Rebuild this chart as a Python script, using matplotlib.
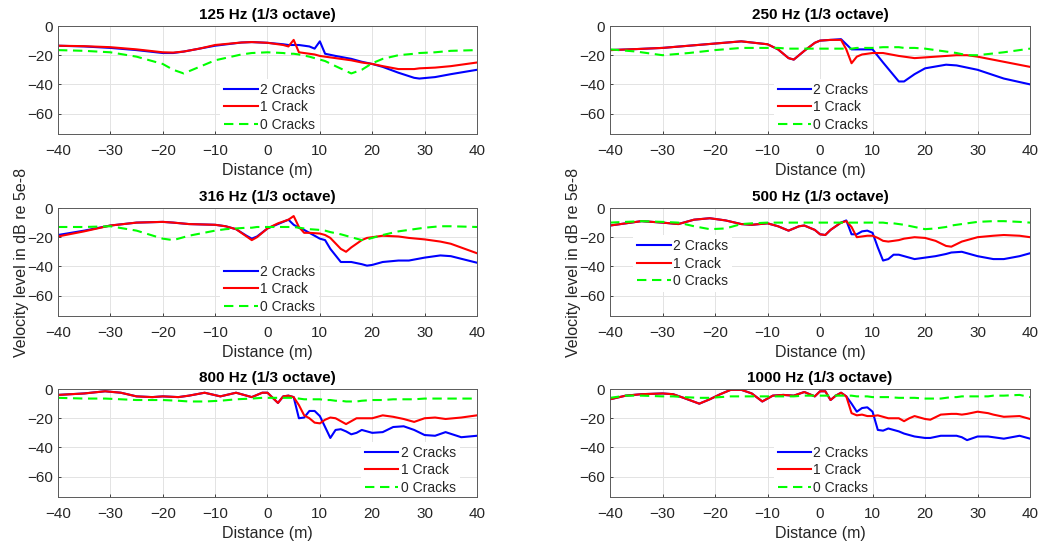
import matplotlib
matplotlib.use('Agg')
import matplotlib.pyplot as plt

plt.rcParams['font.family'] = ['Liberation Sans', 'DejaVu Sans']

labels = ['2 Cracks', '1 Crack', '0 Cracks']

# 125 Hz
x_125 = [-40, -35, -30, -25, -20, -18, -16, -13, -10, -5, -3, 0, 3, 4, 5, 6, 8, 9, 10, 11,
         13, 16, 18, 20, 22, 25, 28, 29, 32, 35, 40]
c2_125 = [-13.5, -14, -15, -16.5, -18.5, -18.5, -17.5, -15.5, -13.5, -11.3, -11, -11.5, -12.5, -13, -13, -13,
          -14, -15.5, -10.5, -19, -20.5, -22.5, -24.5, -26, -28, -32, -35.5, -36, -35, -33, -30]
c1_125 = [-13.5, -13.8, -14.5, -16, -18, -18.2, -17.5, -15.5, -13, -11.3, -11, -11.5, -13, -14, -9.5, -18,
          -19, -19.5, -20.5, -21, -22, -23.5, -25, -26, -27.5, -29.5, -29.5, -29, -28.5, -27.5, -25]
c0_125 = [-16.5, -17, -18, -21, -26, -30, -32.5, -28, -23.5, -19.5, -18.5, -18, -18.5, -19, -19, -19.5,
          -21, -22, -23, -24, -27.5, -32.5, -30, -25.5, -22.5, -20, -19, -18.5, -18, -17, -16.5]

# 250 Hz
x_250 = [-40, -35, -30, -25, -20, -15, -10, -8, -6, -5, -3, -1, 0, 2, 4, 5, 6, 7, 8, 10,
         12, 15, 16, 18, 20, 24, 26, 28, 30, 35, 40]
c2_250 = [-16.5, -15.8, -15, -13.5, -12, -10.5, -12.5, -16, -22, -23, -17, -11.5, -10, -9.5, -9, -12.5,
          -16, -16, -16, -16, -25, -38, -38, -33, -29, -26.5, -27, -28.5, -30, -36, -40]
c1_250 = [-16.5, -15.8, -15, -13.5, -12, -10.5, -12.5, -16, -22, -23, -17, -11.5, -10, -9.5, -9.5, -16,
          -25.5, -21, -19.5, -18.5, -18.5, -20.5, -21, -22, -21.5, -20.5, -20, -20, -21, -24.5, -28]
c0_250 = [-16, -17.5, -20, -18.5, -16.5, -15, -15, -15, -15.5, -15.5, -15.5, -15.5, -15.5, -15.5, -15.5,
          -15.5, -15.5, -15, -15, -15, -14.5, -14.5, -15, -15, -15.5, -17.5, -18.5, -20, -20, -18, -15.5]

# 316 Hz
x_316 = [-40, -35, -30, -25, -20, -18, -15, -10, -8, -6, -4, -3, -2, 0, 2, 4, 5, 6, 7, 8,
         10, 11, 12, 14, 15, 16, 18, 19, 20, 22, 25, 27, 30, 33, 35, 40]
c2_316 = [-18.5, -15.5, -12, -10, -9.5, -10, -11, -11.5, -12.5, -14.5, -19, -21, -19.5, -14, -11, -8,
          -11.5, -13.5, -15, -17, -21, -22, -28, -37, -37, -37, -38.5, -39.5, -39, -37, -36, -36, -34,
          -32.5, -33, -37.5]
c1_316 = [-19.5, -16, -12, -10, -9.5, -10, -11, -11.5, -12.5, -14.5, -19.5, -22, -20, -14, -10.5, -8,
          -5.5, -13, -17, -17, -17.5, -18.5, -20.5, -28, -30, -27, -22, -20.5, -20, -19, -19.5, -20.5,
          -21.5, -23, -24.5, -31]
c0_316 = [-13, -13, -12.5, -15.5, -21, -22, -19, -15.5, -14.5, -14, -13.5, -13.5, -13, -13, -13, -13,
          -13, -13.5, -14, -14.5, -15, -15.5, -16.5, -18, -19, -20, -22, -21.5, -20.5, -18.5, -16, -15,
          -13.5, -12.5, -12.5, -13]

# 500 Hz
x_500 = [-40, -37, -34, -30, -27, -24, -21, -18, -15, -13, -10, -8, -6, -4, -3, -1, 0, 1, 2, 4,
         5, 6, 7, 8, 9, 10, 11, 12, 13, 14, 15, 16, 18, 20, 22, 24, 25, 27, 30, 33, 35, 38, 40]
c2_500 = [-12, -10.5, -9, -10, -11, -8, -7, -8.5, -11, -11.5, -10.5, -12.5, -15.5, -12.5, -12, -15, -18,
          -18.5, -15, -10, -8.5, -18, -18, -16, -15.5, -17, -27, -36, -35, -32, -32, -33, -35, -34, -33,
          -31.5, -30.5, -30, -33, -35, -35, -33, -31]
c1_500 = [-12, -10.5, -9, -10, -11, -8, -7, -8.5, -11, -11.5, -10.5, -12.5, -15.5, -12.5, -12, -15, -18,
          -18.5, -15, -10, -9, -13, -20, -19.5, -19, -19, -20.5, -22.5, -23, -22.5, -22, -21, -20, -20.5,
          -22.5, -26, -26.5, -23, -20, -19, -18.5, -19, -20]
c0_500 = [-10, -9.5, -9, -9.5, -10, -12.5, -14.5, -14, -11, -10.5, -10, -10, -10, -10, -10, -10, -10,
          -10, -10, -10, -10, -10, -10, -10, -10, -10, -10, -10, -10.5, -10.5, -11, -11.5, -13, -14.5,
          -14, -13, -12, -11, -9.5, -9, -9, -9.5, -10]

# 800 Hz
x_800 = [-40, -35, -31, -28, -25, -22, -20, -17, -15, -12, -9, -6, -3, -1, 0, 2, 3, 4, 5, 6,
         7, 8, 9, 10, 11, 12, 13, 14, 15, 16, 17, 18, 20, 22, 24, 26, 28, 30, 32, 34, 37, 40]
c2_800 = [-4, -3, -1.5, -2.5, -5, -5.5, -5, -5.5, -4.5, -2.5, -5, -2.5, -5.5, -2.5, -2.5, -9.5, -5, -4.5,
          -5.5, -20, -19.5, -15, -15, -18.5, -26, -33.5, -28, -27.5, -29, -31, -30, -28, -30, -29.5,
          -26, -25.5, -28, -31.5, -32, -29.5, -33, -32]
c1_800 = [-4, -3, -1.5, -2.5, -5, -5.5, -5, -5.5, -4.5, -2.5, -5, -2.5, -5.5, -2.5, -2.5, -9.5, -5, -4.5,
          -5.5, -11, -18, -20, -23, -23.5, -21, -19.5, -20, -22, -24, -22, -20, -20, -20, -18, -19,
          -20.5, -22.5, -20, -19.5, -20.5, -19.5, -18]
c0_800 = [-6, -6.5, -6.5, -7, -7.5, -7.5, -7.5, -8, -8.5, -8.5, -8, -7, -6.5, -6, -6, -6, -6, -6, -6,
          -6.5, -7, -7, -7, -7, -7.5, -7.5, -8, -8, -8.5, -8.5, -8.5, -8, -7.5, -7.5, -7, -7, -7, -6.5,
          -6.5, -6.5, -6.5, -6.5]

# 1000 Hz
x_1000 = [-40, -37, -34, -30, -28, -26, -23, -21, -19, -17, -15, -13, -11, -9, -7, -5, -3, -1, 0, 1,
          2, 3, 4, 5, 6, 7, 8, 9, 10, 11, 12, 13, 15, 16, 17, 18, 20, 21, 23, 25, 26, 27, 28, 30, 32,
          33, 35, 38, 40]
c2_1000 = [-7, -4.5, -3.5, -3, -3.5, -6, -10, -7, -3.5, -0.5, -0.5, -3, -8.5, -4.5, -4, -4.5, -2, -5,
           -1.5, -1.5, -7.5, -4.5, -2.5, -5, -10, -15.5, -13, -12.5, -15.5, -28, -28.5, -27, -29, -30.5,
           -31.5, -32.5, -33.5, -33.5, -32, -32, -32, -33, -35, -32.5, -32.5, -33, -34, -32, -34]
c1_1000 = [-7, -4.5, -3.5, -3, -3.5, -6, -10, -7, -3.5, -0.5, -0.5, -3, -8.5, -4.5, -4, -4.5, -2, -5,
           -1.5, -1.5, -7.5, -4.5, -2.5, -5, -16.5, -18, -17.5, -18.5, -18.5, -18, -19, -20, -20, -22,
           -20, -18.5, -20.5, -21, -17.5, -17, -17, -17.5, -17, -15.5, -16.5, -17.5, -19, -18.5, -20.5]
c0_1000 = [-6, -4.5, -4.5, -5, -5, -5.5, -6, -6, -5.5, -5, -5, -5, -5, -5, -5, -5, -4.5, -4.5, -4.5,
           -4.5, -4.5, -4.5, -4.5, -4.5, -4.5, -5, -5, -5, -5.5, -5.5, -5.5, -5.5, -6, -6, -6, -6, -6.5,
           -6.5, -6.5, -5.5, -5.5, -5, -5, -5, -5, -4.5, -4.5, -4, -5.5]

panels = [
    ('125 Hz (1/3 octave)', x_125, c2_125, c1_125, c0_125),
    ('250 Hz (1/3 octave)', x_250, c2_250, c1_250, c0_250),
    ('316 Hz (1/3 octave)', x_316, c2_316, c1_316, c0_316),
    ('500 Hz (1/3 octave)', x_500, c2_500, c1_500, c0_500),
    ('800 Hz (1/3 octave)', x_800, c2_800, c1_800, c0_800),
    ('1000 Hz (1/3 octave)', x_1000, c2_1000, c1_1000, c0_1000),
]

# axes rectangles in figure fractions, legend anchors in axes fractions
rects = [
    [0.0557, 0.7555, 0.4025, 0.197], [0.586, 0.7555, 0.4035, 0.197],
    [0.0557, 0.4234, 0.4025, 0.197], [0.586, 0.4234, 0.4035, 0.197],
    [0.0557, 0.0930, 0.4025, 0.197], [0.586, 0.0930, 0.4035, 0.197],
]
leg_pos = [(0.387, -0.018), (0.39, -0.018), (0.387, -0.016),
           (0.055, 0.22), (0.723, -0.018), (0.39, -0.018)]

fig = plt.figure(figsize=(10.41, 5.48), dpi=100)
axcol = '#262626'

for i, (title, x, c2, c1, c0) in enumerate(panels):
    ax = fig.add_axes(rects[i])
    ax.plot(x, c2, color='#0000ff', lw=1.5, label=labels[0])
    ax.plot(x, c1, color='#ff0000', lw=1.5, label=labels[1])
    ax.plot(x, c0, color='#00ff00', lw=1.5, ls=(0, (4.5, 2.7)), label=labels[2])
    ax.set_xlim(-40, 40)
    ax.set_ylim(-74, 0)
    ax.set_xticks(range(-40, 41, 10))
    ax.set_yticks([-60, -40, -20, 0])
    ax.grid(True, color='#e3e3e3', lw=0.7)
    ax.set_axisbelow(True)
    ax.tick_params(direction='in', length=2.5, width=0.6, colors=axcol,
                   labelsize=11, labelcolor=axcol)
    ax.tick_params(axis='x', pad=7)
    for s in ax.spines.values():
        s.set_color('#5a5a5a')
        s.set_linewidth(0.7)
        s.set_zorder(3)
    ax.set_title(title, fontsize=11, fontweight='bold', pad=5)
    ax.set_xlabel('Distance (m)', fontsize=11.5, color=axcol, labelpad=4)
    if i in (2, 3):
        ax.set_ylabel('Velocity level in dB re 5e-8', fontsize=11.5, color=axcol, labelpad=-1)
    leg = ax.legend(loc='lower left', bbox_to_anchor=leg_pos[i], borderaxespad=0,
                    borderpad=0.3, fontsize=10, handlelength=2.4, handletextpad=0.15,
                    labelspacing=0.25, fancybox=False, framealpha=1,
                    edgecolor='none', facecolor='white')
    leg.set_zorder(2.4)
    for t in leg.get_texts():
        t.set_color(axcol)

fig.savefig('out.png', dpi=100)
